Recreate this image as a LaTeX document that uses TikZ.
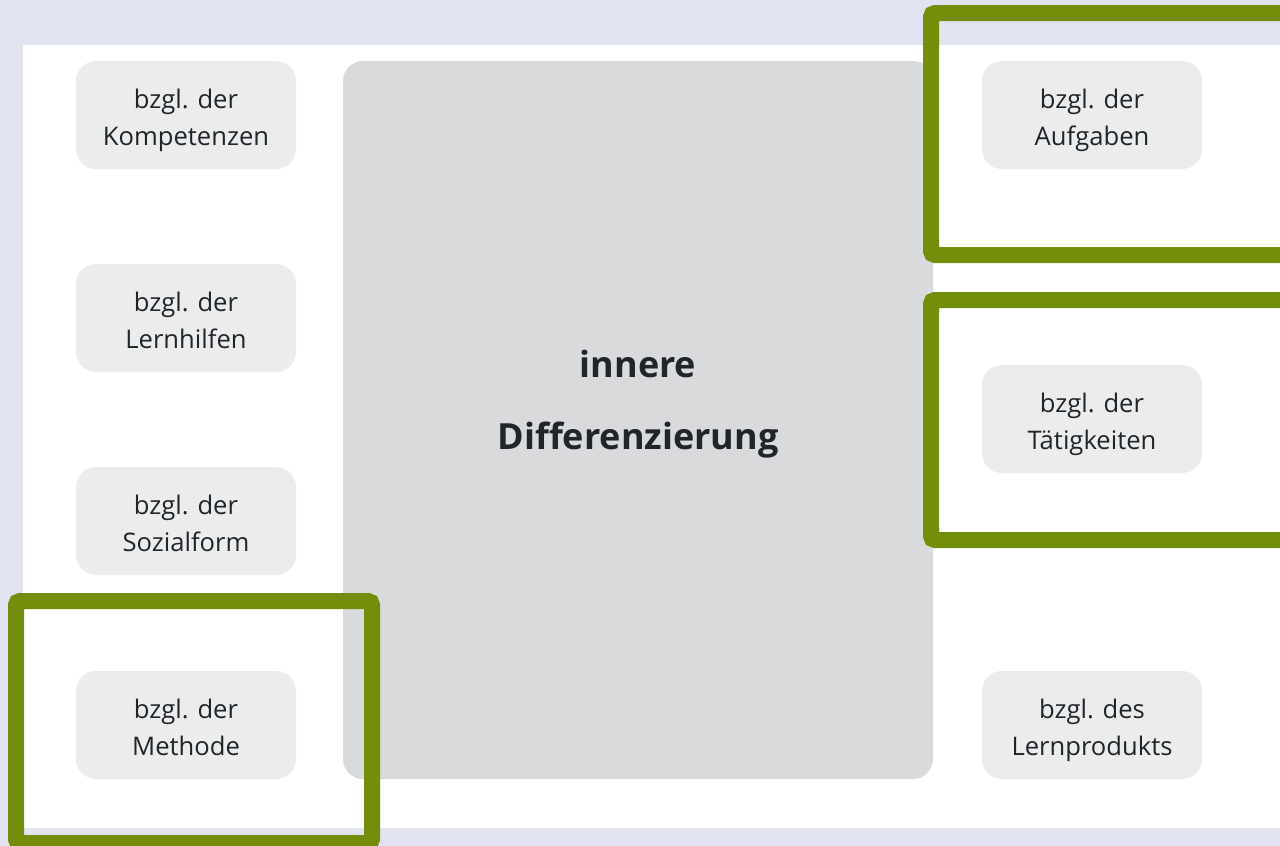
\documentclass[tikz,border=0pt]{standalone}
\usepackage{fontspec}
\setmainfont{Open Sans}
\usepackage{tikz}

\definecolor{pagebg}{RGB}{225,228,240}
\definecolor{boxfill}{RGB}{235,236,236}
\definecolor{midfill}{RGB}{217,218,220}
\definecolor{markgreen}{RGB}{115,142,10}
\definecolor{inktext}{RGB}{34,36,44}

\begin{document}
\begin{tikzpicture}
	[x=0.5pt, y=-0.5pt,
	every node/.style={align = center, text=inktext, inner sep=0pt},
	aspect/.style={fill=boxfill, rounded corners=10pt, minimum width=110pt, minimum height=54pt,
		text height=32pt, text depth=2pt, font=\fontsize{12.8pt}{18.5pt}\selectfont},
	centre/.style={fill=midfill, rounded corners=10pt, minimum width=295pt, minimum height=359pt},
	highlight/.style={draw=markgreen, line width=8pt, rounded corners=2pt}]
	\useasboundingbox (0,0) rectangle (1280,846);
	\clip (0,0) rectangle (1280,846);
	\fill[pagebg] (0,0) rectangle (1280,846);
	\fill[white] (23,45) rectangle (1280,828);
	\node[centre] (inner) at (638,420) {};
	\node[font=\fontsize{18pt}{36pt}\selectfont\bfseries] (innerlabel) at (638,404)
		{innere \\ Differenzierung};
	\node[aspect] (kompetenzen) at (186,115) {bzgl. der \\ Kompetenzen};
	\node[aspect] (lernhilfen) at (186,318) {bzgl. der \\ Lernhilfen};
	\node[aspect] (sozialform) at (186,521) {bzgl. der \\ Sozialform};
	\node[aspect] (methode) at (186,725) {bzgl. der \\ Methode};
	\node[aspect] (aufgaben) at (1092,115) {bzgl. der \\ Aufgaben};
	\node[aspect] (taetigkeiten) at (1092,419) {bzgl. der \\ Tätigkeiten};
	\node[aspect] (lernprodukt) at (1092,725) {bzgl. des \\ Lernprodukts};
	\draw[highlight] (931,13) rectangle (1292,255);
	\draw[highlight] (931,300) rectangle (1292,540);
	\draw[highlight] (16,601) rectangle (372,843);
\end{tikzpicture}
\end{document}
